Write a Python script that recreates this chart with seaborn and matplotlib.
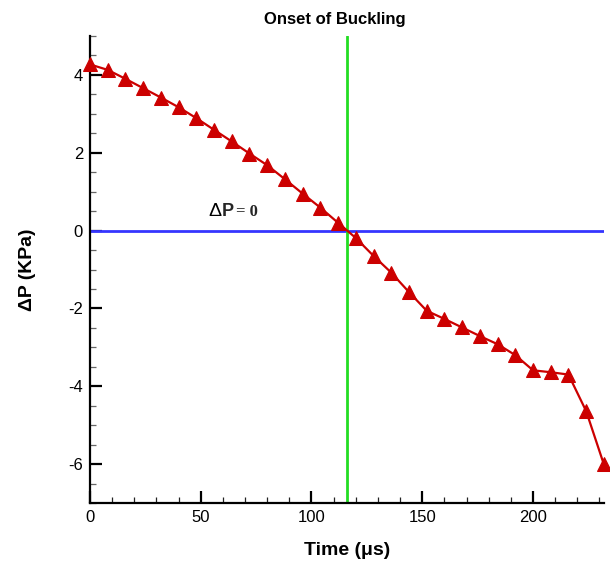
import numpy as np
import pandas as pd
import matplotlib
matplotlib.use("Agg")
import matplotlib.pyplot as plt
import matplotlib.transforms as mtransforms
import seaborn as sns

# Data
time_us = [0, 8, 16, 24, 32, 40, 48, 56, 64, 72, 80, 88, 96, 104, 112,
           120, 128, 136, 144, 152, 160, 168, 176, 184, 192, 200, 208, 216, 224, 232]
delta_p = [4.27, 4.13, 3.90, 3.66, 3.42, 3.17, 2.89, 2.59, 2.29, 1.98, 1.68, 1.32, 0.95, 0.59, 0.20,
           -0.19, -0.65, -1.08, -1.58, -2.06, -2.27, -2.49, -2.71, -2.92, -3.20, -3.59, -3.64, -3.70, -4.64, -6.01]
buckling_time = 116
x_ticks = [0, 50, 100, 150, 200]
y_ticks = [-6, -4, -2, 0, 2, 4]

df = pd.DataFrame({"Time": time_us, "dP": delta_p})

sns.set_style("ticks")
plt.rcParams['font.family'] = ['Liberation Sans', 'DejaVu Sans']
plt.rcParams['axes.unicode_minus'] = False

fig = plt.figure(figsize=(6.1, 5.61), dpi=100)
ax = fig.add_axes([0.1475, 0.1034, 0.8425, 0.8324])

# reference lines
ax.axhline(0, color="#3535ff", lw=2, zorder=1)
ax.axvline(buckling_time, color="#22dd22", lw=2, zorder=1)

sns.lineplot(data=df, x="Time", y="dP", ax=ax, color="#cc0000", lw=1.6,
             marker="^", markersize=10, markeredgecolor="#cc0000", zorder=3,
             clip_on=False)

ax.set_xlim(0, 232)
ax.set_ylim(-7, 5)
ax.set_xticks(x_ticks)
ax.set_yticks(y_ticks)
ax.set_xticks(np.arange(0, 232, 10), minor=True)
ax.set_yticks(np.arange(-7, 5.01, 0.5), minor=True)
ax.tick_params(axis="both", which="major", direction="in", length=8.5, width=1.6,
               labelsize=12, color="black", labelcolor="black", pad=5)
ax.tick_params(axis="x", which="minor", direction="in", length=4.5, width=0.9,
               color="#222222")
ax.tick_params(axis="y", which="minor", direction="in", length=4.5, width=0.9,
               color="#666666")

sns.despine(ax=ax)
for side in ["left", "bottom"]:
    ax.spines[side].set_linewidth(1.6)
    ax.spines[side].set_color("black")

ax.set_xlabel("Time (\u03bcs)", fontsize=14, fontweight="bold", labelpad=12, color="black")
ax.set_ylabel("\u0394P (KPa)", fontsize=14, fontweight="bold", labelpad=23, color="black")

trans = mtransforms.blended_transform_factory(ax.transData, ax.transAxes)
ax.text(110.6, 1.035, "Onset of Buckling", transform=trans, ha="center", va="center",
        fontsize=12, fontweight="bold", color="black")

# "ΔP = 0" annotation
ax.text(59.5, 0.49, "\u0394", ha="right", va="center", fontsize=14, color="black")
ax.text(59.5, 0.49, "P", ha="left", va="center", fontsize=13, fontweight="bold")
ax.text(66, 0.47, "= 0", ha="left", va="center", fontsize=12, fontweight="bold",
        family="Liberation Serif")

fig.savefig("out.png", dpi=100)
